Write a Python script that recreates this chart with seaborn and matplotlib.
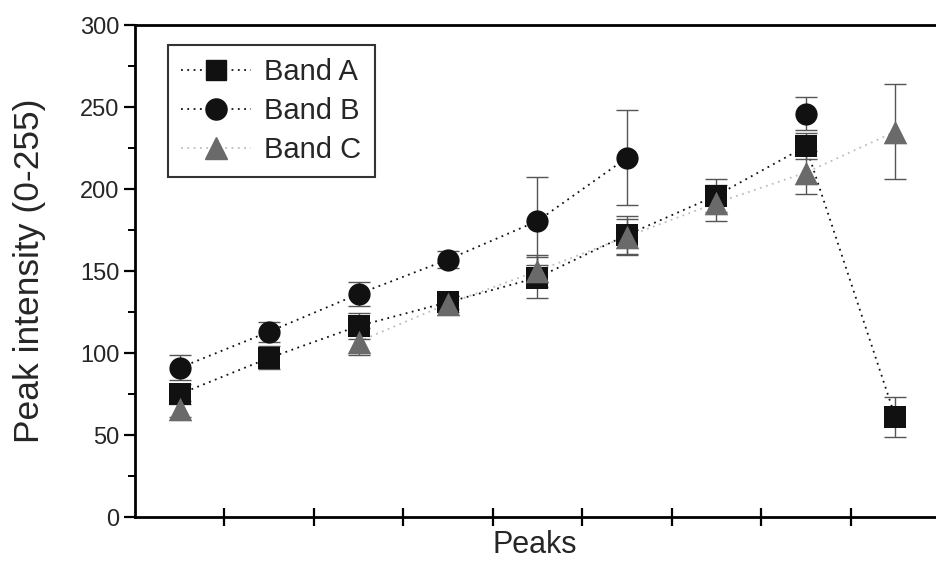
import numpy as np
import pandas as pd
import matplotlib
matplotlib.use("Agg")
import matplotlib.pyplot as plt
from matplotlib.lines import Line2D
from matplotlib.ticker import MultipleLocator
import seaborn as sns

# Peak positions and measured intensities (0-255) per band
peaks = [1, 2, 3, 4, 5, 6, 7, 8, 9]
band_a = [75, 97, 116.5, 131, 146, 172, 196, 226, 61]
band_a_err = [6, 7, 8, 4, 12.5, 11.5, 10, 8, 12]
band_b = [91, 113, 136, 157, 180.5, 219, np.nan, 246, np.nan]
band_b_err = [7.5, 6, 7.5, 5, 27, 29, np.nan, 10, np.nan]
band_c = [66, np.nan, 107, 130, 150, 171, 191.5, 210, 235]
band_c_err = [5, np.nan, 8.5, 5, 10, 11, 11, 13, 29]

y_ticks = [0, 50, 100, 150, 200, 250, 300]

sns.set_theme(style="ticks")
plt.rcParams["font.family"] = ["Liberation Sans", "DejaVu Sans"]

fig = plt.figure(figsize=(9.37, 5.61), dpi=100)
ax = fig.add_axes([135 / 937, 44 / 561, 805 / 937, 492 / 561])

bands = [
    ("Band A", band_a, band_a_err, "s", "#111111", "#111111", 15.5),
    ("Band B", band_b, band_b_err, "o", "#111111", "#111111", 16),
    ("Band C", band_c, band_c_err, "^", "#6a6a6a", "#bdbdbd", 17),
]

rows = []
for name, vals, errs, *_ in bands:
    for p, v, e in zip(peaks, vals, errs):
        rows.append({"peak": p, "intensity": v, "err": e, "band": name})
df = pd.DataFrame(rows)

handles = []
for name, vals, errs, marker, mcolor, lcolor, ms in bands:
    sub = df[df["band"] == name]
    # dotted connecting line (gaps at missing peaks)
    ax.plot(sub["peak"], sub["intensity"], linestyle=(0, (1, 2.5)),
            color=lcolor, linewidth=1.3, zorder=1)
    ax.errorbar(sub["peak"], sub["intensity"], yerr=sub["err"], fmt="none",
                ecolor="#555555", elinewidth=1.0, capsize=8, capthick=1.0,
                zorder=2)
    handles.append(Line2D([], [], linestyle=(0, (1, 2.5)), color=lcolor,
                          linewidth=1.3, marker=marker, markersize=ms * 0.95,
                          markerfacecolor=mcolor, markeredgecolor=mcolor))

for (name, vals, errs, marker, mcolor, lcolor, ms), z in zip(bands, [3, 4, 5]):
    sub = df[df["band"] == name].dropna()
    sns.scatterplot(data=sub, x="peak", y="intensity", marker=marker,
                    s=ms ** 2, color=mcolor, edgecolor=mcolor, linewidth=0,
                    ax=ax, zorder=z, legend=False)

ax.set_xlim(0.5, 9.5)
ax.set_ylim(0, 300)
ax.set_xticks(np.arange(1.5, 9.5, 1.0))
ax.set_xticklabels([])
ax.set_yticks(y_ticks)
ax.set_yticklabels([str(t) for t in y_ticks])
ax.yaxis.set_minor_locator(MultipleLocator(25))

ax.tick_params(axis="x", which="major", direction="inout", length=13,
               width=1.6, color="black", pad=0)
ax.tick_params(axis="y", which="major", direction="out", length=8,
               width=1.6, color="black", labelsize=17, pad=3)
ax.tick_params(axis="y", which="minor", direction="out", length=5,
               width=1.4, color="black")

for side in ["left", "bottom", "top"]:
    ax.spines[side].set_linewidth(2.0)
    ax.spines[side].set_color("black")
ax.spines["right"].set_visible(False)

ax.set_xlabel("Peaks", fontsize=22)
ax.xaxis.set_label_coords(0.497, -0.073, transform=ax.transAxes)
ax.xaxis.label.set_verticalalignment("baseline")
ax.set_ylabel("Peak intensity (0-255)", fontsize=25.5)
ax.yaxis.set_label_coords(-0.111, 0.5, transform=ax.transAxes)

leg = ax.legend(handles, ["Band A", "Band B", "Band C"], loc="upper left",
                bbox_to_anchor=(0.041, 0.96), fontsize=21, frameon=True,
                fancybox=False, edgecolor="black", handlelength=2.4,
                handletextpad=0.45, labelspacing=0.38, borderpad=0.45,
                borderaxespad=0)
leg.get_frame().set_linewidth(1.5)

fig.savefig("out.png", dpi=100, facecolor="white")
